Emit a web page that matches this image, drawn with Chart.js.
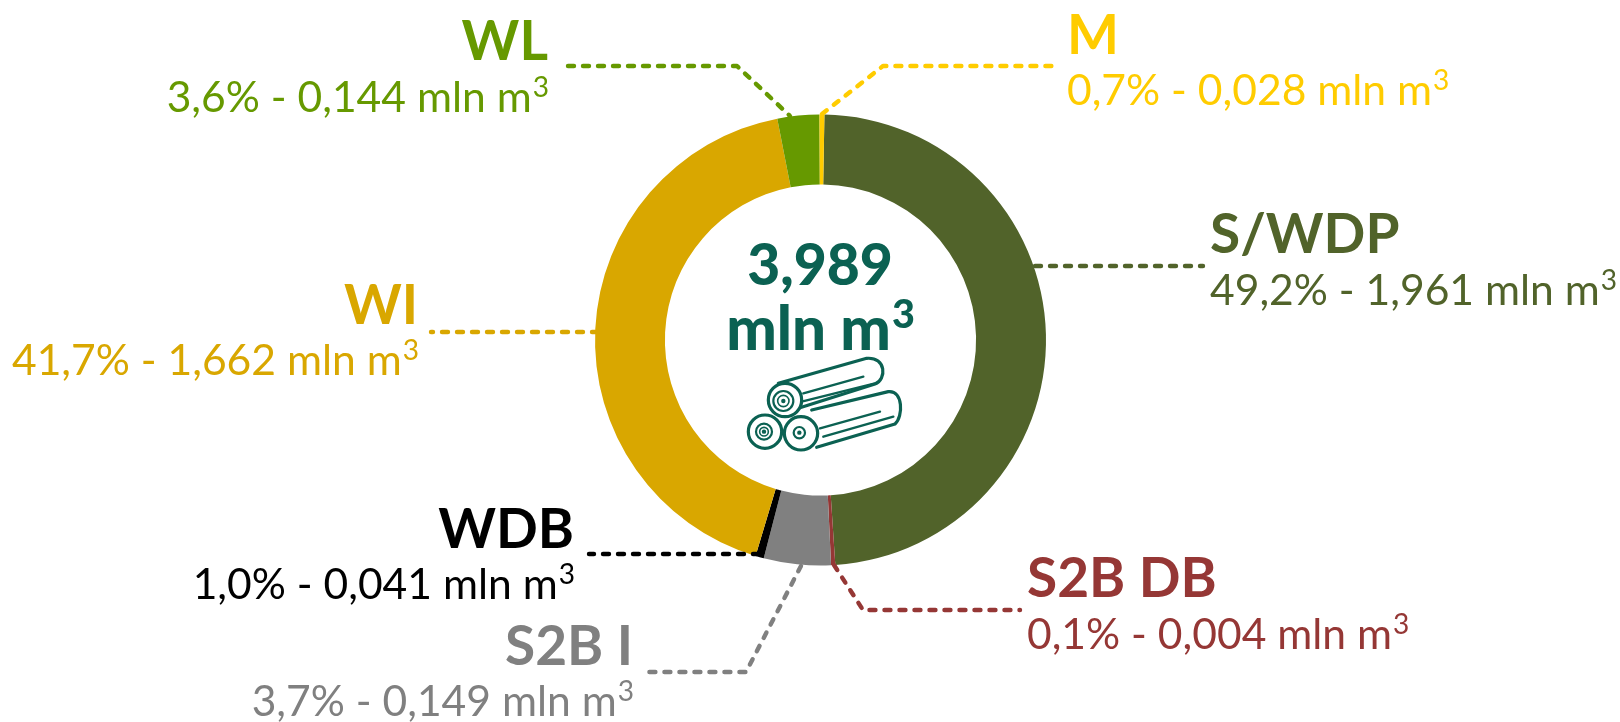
<!DOCTYPE html>
<html><head><meta charset="utf-8">
<script src="https://cdn.jsdelivr.net/npm/chart.js@4"></script>
<style>html,body{margin:0;padding:0;background:#fff}canvas{display:block}</style>
</head><body><canvas id="c" width="1620" height="722"></canvas>
<script>
const categories=["S/WDP","S2B DB","S2B I","WDB","WI","WL","M"];
// Arc shares (%) as measured from the drawn ring; the source ring does not follow its printed labels exactly.
const drawnShares=[48.7,0.3,4.8,0.6,42.3,3.0,0.35];
const details=["49,2% - 1,961 mln m","0,1% - 0,004 mln m","3,7% - 0,149 mln m","1,0% - 0,041 mln m","41,7% - 1,662 mln m","3,6% - 0,144 mln m","0,7% - 0,028 mln m"];
const colours=["#51632A","#953735","#808080","#000000","#D9A700","#669900","#FFCC00"];
const totalLines=["3,989","mln m"];
const superscript="3";
// layout: text anchor and leader line for each category
const labelLayout=[
 {a:"left",x:1210,y1:253,y2:305,line:[[1035,266],[1203,266]]},
 {a:"left",x:1027,y1:597,y2:649,line:[[834,565],[863,610],[1020,610]]},
 {a:"right",x:633,y1:665,y2:716,line:[[801,566],[746,672],[642,672]]},
 {a:"right",x:574,y1:548,y2:599,line:[[759,554],[589,554]]},
 {a:"right",x:418,y1:324,y2:375,line:[[598,332],[431,332]]},
 {a:"right",x:548,y1:60,y2:112,line:[[568,66],[737,66],[790,116]]},
 {a:"left",x:1067,y1:54,y2:105,line:[[822,114],[883,66],[1054,66]]}
];
const font='Lato, "Open Sans", sans-serif';
function withSup(ctx,text,x,y,align,size,weight){
 ctx.font=weight+' '+size+'px '+font;const w=ctx.measureText(text).width;
 const supSize=size*0.66;
 ctx.font=weight+' '+supSize+'px '+font;const sw=ctx.measureText(superscript).width;
 const left=align==="right"?x-w-sw:align==="center"?x-(w+sw)/2:x;
 ctx.textAlign="left";
 ctx.font=weight+' '+size+'px '+font;ctx.fillText(text,left,y);
 ctx.font=weight+' '+supSize+'px '+font;ctx.fillText(superscript,left+w+1,y-size*0.36);
}
function drawLogs(ctx){
 const col="#0B6152";
 ctx.save();ctx.strokeStyle=col;ctx.lineWidth=3.2;ctx.lineCap="round";ctx.lineJoin="round";ctx.fillStyle="#fff";
 const X=x=>720+x/3,Y=y=>220+y/3;
 function body(p){ctx.beginPath();ctx.moveTo(X(p[0]),Y(p[1]));ctx.lineTo(X(p[2]),Y(p[3]));
  ctx.bezierCurveTo(X(p[4]),Y(p[5]),X(p[6]),Y(p[7]),X(p[8]),Y(p[9]));ctx.lineTo(X(p[10]),Y(p[11]));ctx.fill();ctx.stroke();}
 function seg(a,b,c,d){ctx.beginPath();ctx.moveTo(X(a),Y(b));ctx.lineTo(X(c),Y(d));ctx.stroke();}
 function circ(x,y,r){ctx.beginPath();ctx.ellipse(X(x),Y(y),r/3,r/3,0,0,Math.PI*2);ctx.stroke();}
 body([275,570,505,515,550,510,550,590,525,612,290,682]);
 ctx.lineWidth=2.4;seg(300,625,480,575);seg(310,650,520,590);ctx.lineWidth=3.2;
 body([175,490,440,415,500,410,500,480,465,492,235,565]);
 ctx.lineWidth=2.4;seg(250,520,430,470);seg(245,545,465,490);ctx.lineWidth=3.2;
 for(const [x,y,r] of [[195,540,50],[135,635,50],[243,640,50]]){
  ctx.beginPath();ctx.arc(X(x),Y(y),r/3,0,Math.PI*2);ctx.fill();ctx.stroke();
 }
 ctx.lineWidth=2.2;
 circ(190,543,30);circ(132,635,24);circ(238,638,17);
 ctx.fillStyle=col;
 for(const [x,y] of [[190,543],[132,635],[238,638]]){ctx.beginPath();ctx.arc(X(x),Y(y),2.2,0,Math.PI*2);ctx.fill();}
 ctx.lineWidth=1.6;circ(190,543,17);circ(132,635,13);
 ctx.restore();
}
const annotate={id:"annotate",afterDatasetsDraw(chart){
 const ctx=chart.ctx;ctx.save();ctx.textBaseline="alphabetic";
 categories.forEach((name,i)=>{
  const L=labelLayout[i];
  ctx.strokeStyle=colours[i];ctx.lineWidth=4.4;ctx.lineCap="round";ctx.lineJoin="round";ctx.setLineDash([6,9]);
  ctx.beginPath();L.line.forEach((p,k)=>k?ctx.lineTo(p[0],p[1]):ctx.moveTo(p[0],p[1]));ctx.stroke();
  ctx.setLineDash([]);ctx.fillStyle=colours[i];ctx.textAlign=L.a;
  ctx.font='bold 55px '+font;ctx.fillText(name,L.x,L.y1);
  withSup(ctx,details[i],L.x,L.y2,L.a,42.6,'normal');
 });
 ctx.fillStyle="#0B6152";ctx.textAlign="center";ctx.font='900 57px '+font;
 ctx.fillText(totalLines[0],820,285);
 withSup(ctx,totalLines[1],820,350,"center",60,'900');
 drawLogs(ctx);
 ctx.restore();
}};
new Chart(document.getElementById("c"),{
 type:"doughnut",
 data:{labels:categories,datasets:[{data:drawnShares,backgroundColor:colours,borderWidth:0}]},
 options:{responsive:false,animation:false,cutout:"69%",rotation:1,
  layout:{padding:{left:595,right:574,top:114,bottom:156}},
  plugins:{legend:{display:false},tooltip:{enabled:false}}},
 plugins:[annotate]
});
</script></body></html>
